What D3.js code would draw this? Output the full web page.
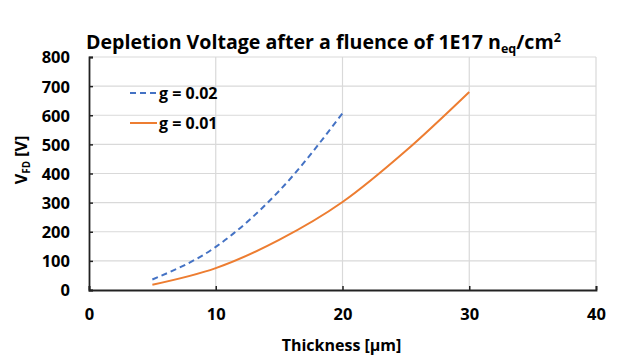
<!DOCTYPE html>
<html>
<head>
<meta charset="utf-8">
<script src="https://cdn.jsdelivr.net/npm/d3@7"></script>
<style>
  body { margin: 0; background: #fff; }
  text { font-family: "Open Sans", "Liberation Sans", sans-serif; font-weight: bold; fill: #000; }
</style>
</head>
<body>
<div id="chart"></div>
<script>
// Thickness [um] and depletion voltage [V]
let thick_g002 = [5, 10, 15, 20];
let volt_g002 = [36, 148, 340, 607];
let thick_g001 = [5, 10, 15, 20, 25, 30];
let volt_g001 = [18, 75, 172, 302, 478, 680];

let x_ticks = [0, 10, 20, 30, 40];
let y_ticks = [0, 100, 200, 300, 400, 500, 600, 700, 800];

let width = 639, height = 364;
let margin = {left: 89, right: 43, top: 57, bottom: 74};

let svg = d3.select("#chart")
    .append("svg")
    .attr("width", width)
    .attr("height", height);

let x = d3.scaleLinear().domain([0, 40]).range([margin.left, width - margin.right]);
let y = d3.scaleLinear().domain([0, 800]).range([height - margin.bottom, margin.top]);

// Gridlines
svg.append("g")
    .selectAll("line.h")
    .data(y_ticks.slice(1))
    .enter().append("line")
    .attr("x1", x(0)).attr("x2", x(40))
    .attr("y1", d => y(d)).attr("y2", d => y(d))
    .attr("stroke", "#d9d9d9").attr("stroke-width", 1.2);
svg.append("g")
    .selectAll("line.v")
    .data(x_ticks.slice(1))
    .enter().append("line")
    .attr("x1", d => x(d)).attr("x2", d => x(d))
    .attr("y1", y(0)).attr("y2", y(800))
    .attr("stroke", "#d9d9d9").attr("stroke-width", 1.2);

// Axes (ticks pointing inward)
let xAxis = svg.append("g")
    .attr("transform", `translate(0, ${y(0)})`)
    .call(d3.axisBottom(x).tickValues(x_ticks).tickSizeInner(-4).tickSizeOuter(-4).tickPadding(18));
let yAxis = svg.append("g")
    .attr("transform", `translate(${x(0)}, 0)`)
    .call(d3.axisLeft(y).tickValues(y_ticks).tickSizeInner(-4).tickSizeOuter(-4).tickPadding(19));

[xAxis, yAxis].forEach(a => {
    a.select(".domain").attr("stroke", "#222").attr("stroke-width", 1.8);
    a.selectAll(".tick line").attr("stroke", "#222").attr("stroke-width", 1.5);
    a.selectAll("text")
        .style("font-family", "'Open Sans', sans-serif")
        .style("font-weight", "bold")
        .style("font-size", "16.5px")
        .attr("fill", "#000");
});
yAxis.selectAll("text").attr("dy", "0.36em");

// Lines
let line = d3.line()
    .x(d => x(d[0]))
    .y(d => y(d[1]))
    .curve(d3.curveMonotoneX);

svg.append("path")
    .datum(d3.zip(thick_g001, volt_g001))
    .attr("d", line)
    .attr("fill", "none")
    .attr("stroke", "#ED7D31")
    .attr("stroke-width", 2);

svg.append("path")
    .datum(d3.zip(thick_g002, volt_g002))
    .attr("d", line)
    .attr("fill", "none")
    .attr("stroke", "#4472C4")
    .attr("stroke-width", 2)
    .attr("stroke-dasharray", "6,4");

// Legend
let legend = [
    {label: "g = 0.02", color: "#4472C4", dash: "6,4", y: 93},
    {label: "g = 0.01", color: "#ED7D31", dash: null, y: 123}
];
legend.forEach(l => {
    svg.append("line")
        .attr("x1", 130).attr("x2", 157)
        .attr("y1", l.y).attr("y2", l.y)
        .attr("stroke", l.color).attr("stroke-width", 2)
        .attr("stroke-dasharray", l.dash);
    svg.append("text")
        .attr("x", 159).attr("y", l.y + 6)
        .style("font-size", "16px")
        .text(l.label);
});

// Title
let title = svg.append("text")
    .attr("x", 86).attr("y", 49)
    .style("font-size", "19.6px");
title.append("tspan").text("Depletion Voltage after a fluence of 1E17 n");
title.append("tspan").attr("dy", 4).style("font-size", "12.5px").text("eq");
title.append("tspan").attr("dy", -4).text("/cm");
title.append("tspan").attr("dy", -7).style("font-size", "12.5px").text("2");

// Axis titles
svg.append("text")
    .attr("x", (x(0) + x(40)) / 2 - 1).attr("y", 351)
    .attr("text-anchor", "middle")
    .style("font-size", "16px")
    .text("Thickness [µm]");

let ylab = svg.append("text")
    .attr("transform", `translate(27, 160) rotate(-90)`)
    .attr("text-anchor", "middle")
    .style("font-size", "16px");
ylab.append("tspan").text("V");
ylab.append("tspan").attr("dy", 3).style("font-size", "10px").text("FD");
ylab.append("tspan").attr("dy", -3).text(" [V]");
</script>
</body>
</html>
